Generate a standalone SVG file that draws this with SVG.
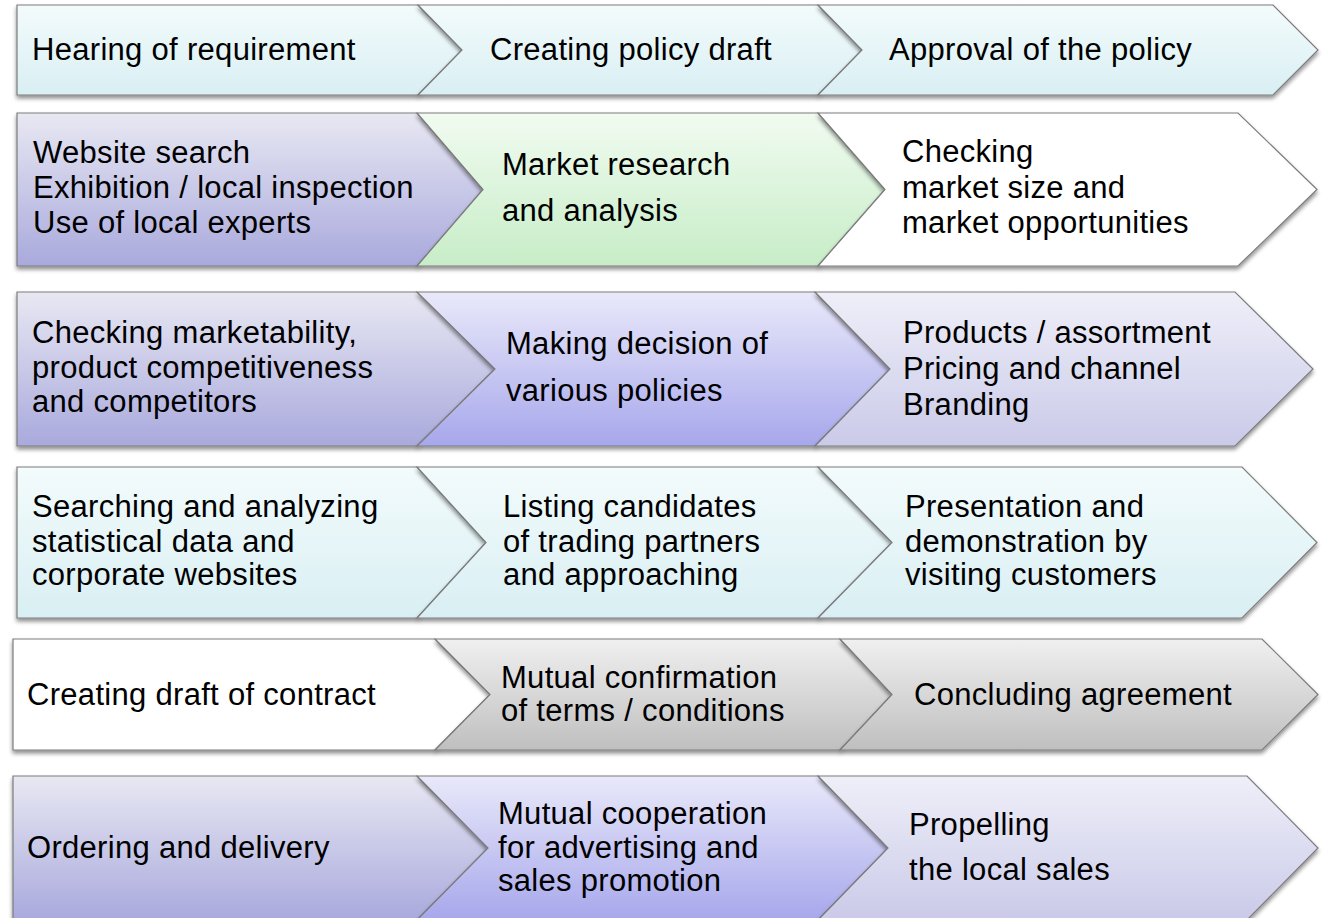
<svg xmlns="http://www.w3.org/2000/svg" width="1322" height="918" viewBox="0 0 1322 918">
<defs>
<linearGradient id="gCyan" x1="0" y1="0" x2="0" y2="1"><stop offset="0" stop-color="#f3fbfc"/><stop offset="1" stop-color="#d9eff3"/></linearGradient>
<linearGradient id="gLav" x1="0" y1="0" x2="0" y2="1"><stop offset="0" stop-color="#e8e8f3"/><stop offset="1" stop-color="#a9a9dd"/></linearGradient>
<linearGradient id="gBlue" x1="0" y1="0" x2="0" y2="1"><stop offset="0" stop-color="#e9e9fa"/><stop offset="1" stop-color="#a7a7ec"/></linearGradient>
<linearGradient id="gLight" x1="0" y1="0" x2="0" y2="1"><stop offset="0" stop-color="#efeff9"/><stop offset="1" stop-color="#cacae9"/></linearGradient>
<linearGradient id="gGreen" x1="0" y1="0" x2="0" y2="1"><stop offset="0" stop-color="#f1fbf1"/><stop offset="1" stop-color="#c7edc7"/></linearGradient>
<linearGradient id="gGray" x1="0" y1="0" x2="0" y2="1"><stop offset="0" stop-color="#f0f0f0"/><stop offset="1" stop-color="#bfbfbf"/></linearGradient>
<filter id="sh" x="-5%" y="-10%" width="110%" height="130%">
<feGaussianBlur in="SourceAlpha" stdDeviation="2"/>
<feOffset dy="3" result="b"/>
<feComponentTransfer><feFuncA type="linear" slope="0.45"/></feComponentTransfer>
<feMerge><feMergeNode/><feMergeNode in="SourceGraphic"/></feMerge>
</filter>
</defs>
<style>
.s{stroke:#7c7c7c;stroke-width:1.2;filter:url(#sh)}
text{font-family:"Liberation Sans",Arial,sans-serif;font-size:31px;fill:#000;letter-spacing:0.3px}
.cyan{fill:url(#gCyan)}.lav{fill:url(#gLav)}.blue{fill:url(#gBlue)}.light{fill:url(#gLight)}.green{fill:url(#gGreen)}.gray{fill:url(#gGray)}.white{fill:#fff}
</style>
<rect width="1322" height="918" fill="#fff"/>

<g id="r1c1"><path class="s cyan" d="M17,5 H418 L462,50 L418,95 H17 Z"/><text x="32" y="60">Hearing of requirement</text></g>
<g id="r1c2"><path class="s cyan" d="M418,5 H818 L862,50 L818,95 H418 L462,50 Z"/><text x="490" y="60">Creating policy draft</text></g>
<g id="r1c3"><path class="s cyan" d="M818,5 H1273 L1318,50 L1273,95 H818 L862,50 Z"/><text x="889" y="60">Approval of the policy</text></g>

<g id="r2c1"><path class="s lav" d="M17,113 H417 L483,189.5 L417,266 H17 Z"/><text><tspan x="33" y="163">Website search</tspan><tspan x="33" y="198">Exhibition / local inspection</tspan><tspan x="33" y="233">Use of local experts</tspan></text></g>
<g id="r2c2"><path class="s green" d="M417,113 H818 L885,189.5 L818,266 H417 L483,189.5 Z"/><text><tspan x="502" y="175">Market research</tspan><tspan x="502" y="221">and analysis</tspan></text></g>
<g id="r2c3"><path class="s white" d="M818,113 H1238 L1317,189.5 L1238,266 H818 L885,189.5 Z"/><text><tspan x="902" y="162">Checking</tspan><tspan x="902" y="198">market size and</tspan><tspan x="902" y="233">market opportunities</tspan></text></g>

<g id="r3c1"><path class="s lav" d="M17,292 H417 L495,369 L417,446 H17 Z"/><text><tspan x="32" y="343">Checking marketability,</tspan><tspan x="32" y="378">product competitiveness</tspan><tspan x="32" y="412">and competitors</tspan></text></g>
<g id="r3c2"><path class="s blue" d="M417,292 H815 L890,369 L815,446 H417 L495,369 Z"/><text><tspan x="506" y="354">Making decision of</tspan><tspan x="506" y="401">various policies</tspan></text></g>
<g id="r3c3"><path class="s light" d="M815,292 H1235 L1313,369 L1235,446 H815 L890,369 Z"/><text><tspan x="903" y="343">Products / assortment</tspan><tspan x="903" y="379">Pricing and channel</tspan><tspan x="903" y="415">Branding</tspan></text></g>

<g id="r4c1"><path class="s cyan" d="M17,467 H417 L486,542.5 L417,618 H17 Z"/><text><tspan x="32" y="517">Searching and analyzing</tspan><tspan x="32" y="552">statistical data and</tspan><tspan x="32" y="585">corporate websites</tspan></text></g>
<g id="r4c2"><path class="s cyan" d="M417,467 H818 L892,542.5 L818,618 H417 L486,542.5 Z"/><text><tspan x="503" y="517">Listing candidates</tspan><tspan x="503" y="552">of trading partners</tspan><tspan x="503" y="585">and approaching</tspan></text></g>
<g id="r4c3"><path class="s cyan" d="M818,467 H1242 L1317,542.5 L1242,618 H818 L892,542.5 Z"/><text><tspan x="905" y="517">Presentation and</tspan><tspan x="905" y="552">demonstration by</tspan><tspan x="905" y="585">visiting customers</tspan></text></g>

<g id="r5c1"><path class="s white" d="M13,639 H435 L490,694.5 L435,750 H13 Z"/><text x="27" y="705">Creating draft of contract</text></g>
<g id="r5c2"><path class="s gray" d="M435,639 H840 L892,694.5 L840,750 H435 L490,694.5 Z"/><text><tspan x="501" y="688">Mutual confirmation</tspan><tspan x="501" y="721">of terms / conditions</tspan></text></g>
<g id="r5c3"><path class="s gray" d="M840,639 H1262 L1318,694.5 L1262,750 H840 L892,694.5 Z"/><text x="914" y="705">Concluding agreement</text></g>

<g id="r6c1"><path class="s lav" d="M13,776 H417 L488,848 L417,920 H13 Z"/><text x="27" y="858">Ordering and delivery</text></g>
<g id="r6c2"><path class="s blue" d="M417,776 H818 L888,848 L818,920 H417 L488,848 Z"/><text><tspan x="498" y="824">Mutual cooperation</tspan><tspan x="498" y="858">for advertising and</tspan><tspan x="498" y="891">sales promotion</tspan></text></g>
<g id="r6c3"><path class="s light" d="M818,776 H1247 L1318,848 L1247,920 H818 L888,848 Z"/><text><tspan x="909" y="835">Propelling</tspan><tspan x="909" y="880">the local sales</tspan></text></g>
</svg>
